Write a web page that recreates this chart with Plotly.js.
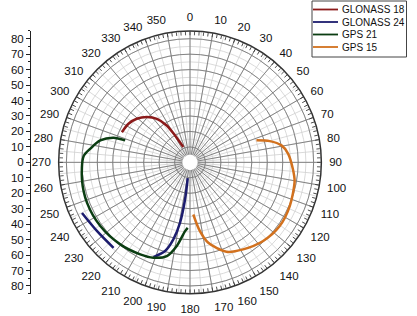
<!DOCTYPE html>
<html>
<head>
<meta charset="utf-8">
<script src="https://cdn.plot.ly/plotly-3.0.1.min.js"></script>
<style>html,body{margin:0;padding:0;background:#fff;}#chart{width:417px;height:316px;}</style>
</head>
<body>
<div id="chart"></div>
<script>
// Series names and colours
const seriesNames = ["GLONASS 18", "GLONASS 24", "GPS 21", "GPS 15"];
const seriesColors = ["#8b1a1a", "#1c1c6e", "#0b3d12", "#d2711e"];

// GLONASS 18 (azimuth in degrees, radial value)
const glo18Theta = [336.4, 330.9, 327.8, 322.7, 316.3, 309.3, 302.1, 293.9];
const glo18R     = [10.8, 19.9, 28.2, 35.4, 40.5, 44.5, 47.0, 48.2];

// GLONASS 24 (two visible pieces, gap = null)
const glo24Theta = [188.3, 187.6, 189.4, 192.2, 195.7, 201.1, null, 221.8, 233.5, 244.9];
const glo24R     = [10.3, 24.3, 39.7, 51.0, 59.6, 65.7, null, 74.2, 74.8, 77.2];

// GPS 21
const gps21Theta = [288.7, 287.8, 283.7, 277.8, 273.2, 260.9, 248.5, 234.6, 220.4, 208.4, 201.0, 193.9, 189.0, 184.1, 182.0];
const gps21R     = [44.3, 52.0, 59.8, 65.1, 69.0, 70.8, 71.6, 71.2, 69.7, 67.7, 66.1, 62.5, 54.8, 44.6, 42.4];

// GPS 15
const gps15Theta = [176.4, 171.8, 167.2, 157.8, 148.6, 137.1, 125.4, 113.7, 100.3, 94.0, 84.9, 79.5, 75.1, 71.7];
const gps15R     = [33.8, 45.0, 53.4, 62.5, 66.0, 69.5, 71.2, 70.5, 68.8, 66.8, 63.7, 60.2, 53.4, 45.3];

// Tick labels
const angleTicks = [0,10,20,30,40,50,60,70,80,90,100,110,120,130,140,150,160,170,180,190,200,210,220,230,240,250,260,270,280,290,300,310,320,330,340,350];
const angleLabels = angleTicks.map(String);
const leftTickVals = [80,70,60,50,40,30,20,10,0,-10,-20,-30,-40,-50,-60,-70,-80];
const leftTickText = ["80","70","60","50","40","30","20","10","0","10","20","30","40","50","60","70","80"];

const rMin = 5, rMax = 85;
const FONT = "Liberation Sans, Arial, sans-serif";
const W = 417, H = 316;

const thetas = [glo18Theta, glo24Theta, gps21Theta, gps15Theta];
const rs = [glo18R, glo24R, gps21R, gps15R];

// empty traces so that the grid / rim subplots get drawn
const traces = [
  {type: "scatterpolar", subplot: "polar", r: [], theta: [], mode: "lines", showlegend: false, hoverinfo: "skip"},
  {type: "scatterpolar", subplot: "polar3", r: [], theta: [], mode: "lines", showlegend: false, hoverinfo: "skip"}
];

seriesNames.forEach((name, i) => traces.push({
  type: "scatterpolar",
  subplot: "polar2",
  mode: "lines",
  name: name,
  theta: thetas[i],
  r: rs[i],
  connectgaps: false,
  showlegend: false,
  line: {color: seriesColors[i], width: 2.5, shape: "spline", smoothing: 0.8},
  hoverinfo: "skip"
}));

// invisible trace to anchor the left cartesian axis
traces.push({type: "scatter", x: [0], y: [0], mode: "markers", marker: {opacity: 0}, showlegend: false, hoverinfo: "skip", xaxis: "x", yaxis: "y"});

const polarDomain = {x: [0.1398, 0.7715], y: [0.0706, 0.9019]};
const hole = rMin / rMax;

const baseRadial = {range: [rMin, rMax], showticklabels: false, ticks: "", showline: false};
const baseAngular = {rotation: 90, direction: "clockwise", thetaunit: "degrees"};

// Legend box drawn as shapes + annotations (built from names/colours)
const legBox = {x0: 312, x1: 406.5, y0: 1, y1: 57};
const legRow0 = 9.5, legRowH = 12.5;
const shapes = [{
  type: "rect", xref: "paper", yref: "paper",
  x0: legBox.x0 / W, x1: legBox.x1 / W, y0: 1 - legBox.y1 / H, y1: 1 - legBox.y0 / H,
  line: {color: "#444", width: 1}, fillcolor: "#fff", layer: "above"
}];
const annotations = [];
seriesNames.forEach((name, i) => {
  const py = legRow0 + i * legRowH;
  shapes.push({
    type: "line", xref: "paper", yref: "paper",
    x0: 313 / W, x1: 338 / W, y0: 1 - py / H, y1: 1 - py / H,
    line: {color: seriesColors[i], width: 1.8}, layer: "above"
  });
  annotations.push({
    xref: "paper", yref: "paper", x: 339.5 / W, y: 1 - py / H,
    xanchor: "left", yanchor: "middle", showarrow: false,
    text: name, font: {family: FONT, size: 10, color: "#111"}
  });
});

const layout = {
  width: W, height: H,
  margin: {l: 0, r: 0, t: 0, b: 0, autoexpand: false},
  paper_bgcolor: "#fff",
  plot_bgcolor: "rgba(0,0,0,0)",
  font: {family: FONT, size: 11, color: "#111"},
  showlegend: false,
  shapes: shapes,
  annotations: annotations,
  // minor grid (underneath)
  polar: {
    domain: polarDomain, hole: hole, bgcolor: "#fff",
    radialaxis: Object.assign({}, baseRadial, {tickmode: "linear", tick0: 5, dtick: 5, showgrid: true, gridcolor: "#d0d0d0", gridwidth: 0.8}),
    angularaxis: Object.assign({}, baseAngular, {tickmode: "linear", tick0: 0, dtick: 5, showgrid: true, gridcolor: "#d0d0d0", gridwidth: 0.8, showticklabels: false, ticks: "", showline: false})
  },
  // major grid, labels and data
  polar2: {
    domain: polarDomain, hole: hole, bgcolor: "rgba(0,0,0,0)",
    radialaxis: Object.assign({}, baseRadial, {tickmode: "linear", tick0: 0, dtick: 10, showgrid: true, gridcolor: "#7a7a7a", gridwidth: 0.9}),
    angularaxis: Object.assign({}, baseAngular, {
      tickmode: "array", tickvals: angleTicks, ticktext: angleLabels,
      showgrid: true, gridcolor: "#7a7a7a", gridwidth: 0.9,
      ticks: "outside", ticklen: 5, tickcolor: "rgba(0,0,0,0)",
      showline: false,
      tickfont: {family: FONT, size: 11.5, color: "#111"}
    })
  },
  // rim line and fine ticks
  polar3: {
    domain: polarDomain, hole: 0, bgcolor: "rgba(0,0,0,0)",
    radialaxis: {range: [0, rMax], showticklabels: false, ticks: "", showline: false, showgrid: false},
    angularaxis: Object.assign({}, baseAngular, {tickmode: "linear", tick0: 0, dtick: 2, showgrid: false, showticklabels: false, ticks: "inside", ticklen: 3.5, tickcolor: "#333", tickwidth: 0.8, showline: true, linecolor: "#333", linewidth: 1.5})
  },
  xaxis: {domain: [0.0743, 0.09], visible: false, range: [0, 1], fixedrange: true},
  yaxis: {
    domain: [0.0706, 0.9019], range: [-85, 85], anchor: "x", side: "left",
    tickmode: "array", tickvals: leftTickVals, ticktext: leftTickText,
    showline: true, linecolor: "#222", linewidth: 1,
    ticks: "outside", ticklen: 4, tickcolor: "#222",
    minor: {tickmode: "linear", tick0: 5, dtick: 10, ticks: "outside", ticklen: 2, tickcolor: "#222", showgrid: false},
    showgrid: false, zeroline: false,
    tickfont: {family: FONT, size: 11.5, color: "#111"}
  }
};

Plotly.newPlot("chart", traces, layout, {staticPlot: true, displayModeBar: false});
</script>
</body>
</html>
